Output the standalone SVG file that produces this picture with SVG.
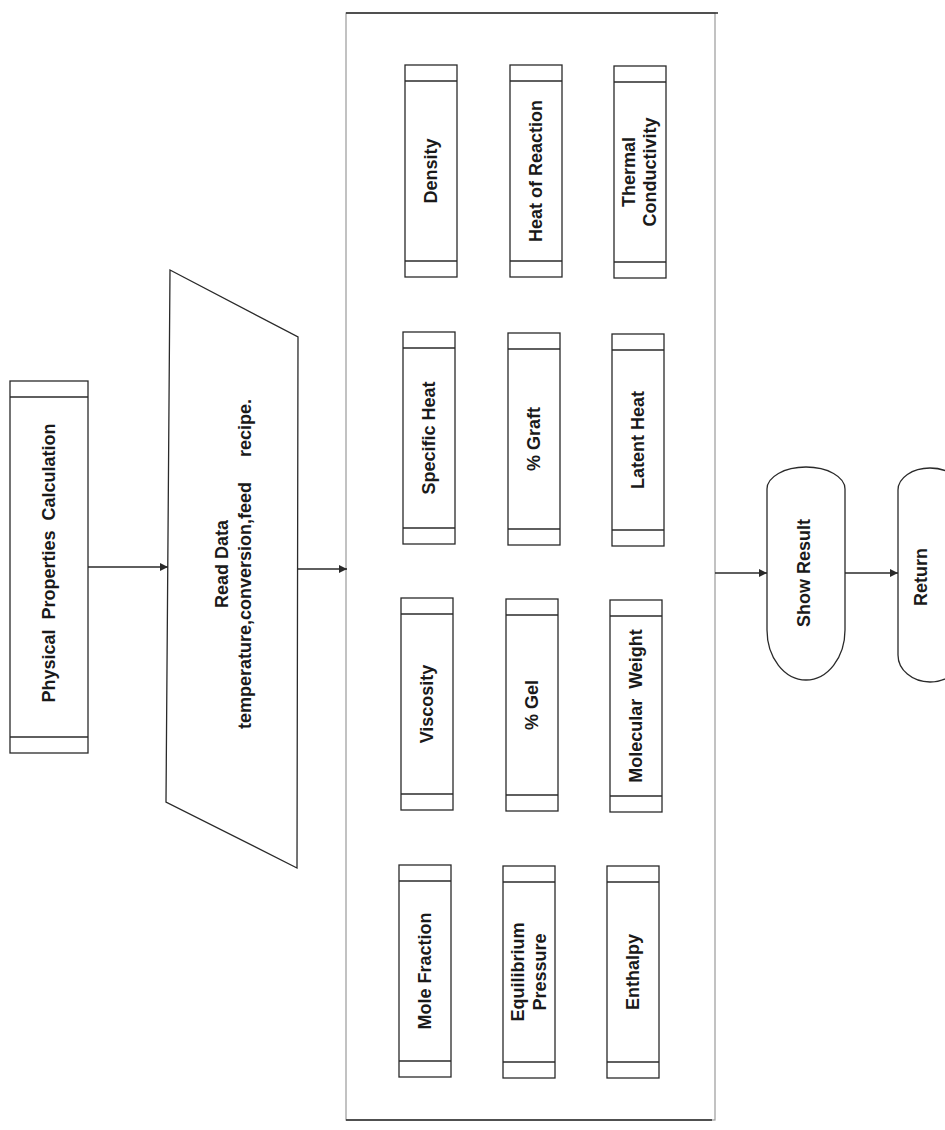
<svg xmlns="http://www.w3.org/2000/svg" width="945" height="1130" viewBox="0 0 945 1130">
<defs>
<style>
.ln{fill:none;stroke:#2a2a2a;stroke-width:1.3}
.sh{fill:#ffffff;stroke:#2a2a2a;stroke-width:1.3}
.cont{fill:#ffffff;stroke:#9a9a9a;stroke-width:1.2}
.edge{stroke:#2a2a2a;stroke-width:1.3;fill:none}
.t{font-family:"Liberation Sans",Arial,sans-serif;font-size:18px;font-weight:bold;fill:#1a1a1a;text-anchor:middle;dominant-baseline:central}
</style>
<marker id="ah" viewBox="0 0 10 10" refX="10" refY="5" markerWidth="11" markerHeight="8" markerUnits="userSpaceOnUse" orient="auto">
<path d="M0,0 L10,5 L0,10 Z" fill="#2a2a2a"/>
</marker>
</defs>
<rect x="0" y="0" width="945" height="1130" fill="#ffffff"/>

<g id="container">
<rect class="cont" x="346" y="13" width="369" height="1107"/>
<line x1="346" y1="13" x2="718" y2="13" stroke="#2a2a2a" stroke-width="1.6"/>
<line x1="346" y1="1120" x2="712" y2="1120" stroke="#2a2a2a" stroke-width="1.6"/>
</g>

<g id="physical-properties">
<rect class="sh" x="10" y="381" width="78" height="372"/>
<line class="ln" x1="10" y1="397" x2="88" y2="397"/>
<line class="ln" x1="10" y1="737" x2="88" y2="737"/>
<text class="t" x="49" y="563" transform="rotate(-90 49 563)" xml:space="preserve">Physical  Properties  Calculation</text>
</g>

<g id="read-data">
<polygon class="sh" points="170,270 298,337 297,868 166,802"/>
<text class="t" x="222" y="564" transform="rotate(-90 222 564)">Read Data</text>
<text class="t" x="245" y="564" transform="rotate(-90 245 564)" xml:space="preserve">temperature,conversion,feed     recipe.</text>
</g>

<g id="density">
<rect class="sh" x="405" y="65" width="52" height="212"/>
<line class="ln" x1="405" y1="81" x2="457" y2="81"/><line class="ln" x1="405" y1="261" x2="457" y2="261"/>
<text class="t" x="431" y="171" transform="rotate(-90 431 171)">Density</text>
</g>
<g id="heat-of-reaction">
<rect class="sh" x="510" y="65" width="52" height="212"/>
<line class="ln" x1="510" y1="81" x2="562" y2="81"/><line class="ln" x1="510" y1="261" x2="562" y2="261"/>
<text class="t" x="536" y="171" transform="rotate(-90 536 171)">Heat of Reaction</text>
</g>
<g id="thermal-conductivity">
<rect class="sh" x="614" y="66" width="52" height="212"/>
<line class="ln" x1="614" y1="82" x2="666" y2="82"/><line class="ln" x1="614" y1="262" x2="666" y2="262"/>
<text class="t" x="629" y="172" transform="rotate(-90 629 172)">Thermal</text>
<text class="t" x="650" y="172" transform="rotate(-90 650 172)">Conductivity</text>
</g>

<g id="specific-heat">
<rect class="sh" x="403" y="332" width="52" height="212"/>
<line class="ln" x1="403" y1="348" x2="455" y2="348"/><line class="ln" x1="403" y1="528" x2="455" y2="528"/>
<text class="t" x="429" y="438" transform="rotate(-90 429 438)">Specific Heat</text>
</g>
<g id="graft">
<rect class="sh" x="508" y="333" width="52" height="212"/>
<line class="ln" x1="508" y1="349" x2="560" y2="349"/><line class="ln" x1="508" y1="529" x2="560" y2="529"/>
<text class="t" x="534" y="439" transform="rotate(-90 534 439)">% Graft</text>
</g>
<g id="latent-heat">
<rect class="sh" x="612" y="334" width="52" height="212"/>
<line class="ln" x1="612" y1="350" x2="664" y2="350"/><line class="ln" x1="612" y1="530" x2="664" y2="530"/>
<text class="t" x="638" y="440" transform="rotate(-90 638 440)">Latent Heat</text>
</g>

<g id="viscosity">
<rect class="sh" x="401" y="598" width="52" height="212"/>
<line class="ln" x1="401" y1="614" x2="453" y2="614"/><line class="ln" x1="401" y1="794" x2="453" y2="794"/>
<text class="t" x="427" y="704" transform="rotate(-90 427 704)">Viscosity</text>
</g>
<g id="gel">
<rect class="sh" x="506" y="599" width="52" height="212"/>
<line class="ln" x1="506" y1="615" x2="558" y2="615"/><line class="ln" x1="506" y1="795" x2="558" y2="795"/>
<text class="t" x="532" y="705" transform="rotate(-90 532 705)">% Gel</text>
</g>
<g id="molecular-weight">
<rect class="sh" x="610" y="600" width="52" height="212"/>
<line class="ln" x1="610" y1="616" x2="662" y2="616"/><line class="ln" x1="610" y1="796" x2="662" y2="796"/>
<text class="t" x="636" y="706" transform="rotate(-90 636 706)" xml:space="preserve">Molecular  Weight</text>
</g>

<g id="mole-fraction">
<rect class="sh" x="399" y="865" width="52" height="212"/>
<line class="ln" x1="399" y1="881" x2="451" y2="881"/><line class="ln" x1="399" y1="1061" x2="451" y2="1061"/>
<text class="t" x="425" y="971" transform="rotate(-90 425 971)">Mole Fraction</text>
</g>
<g id="equilibrium-pressure">
<rect class="sh" x="503" y="866" width="52" height="212"/>
<line class="ln" x1="503" y1="882" x2="555" y2="882"/><line class="ln" x1="503" y1="1062" x2="555" y2="1062"/>
<text class="t" x="518" y="972" transform="rotate(-90 518 972)">Equilibrium</text>
<text class="t" x="540" y="972" transform="rotate(-90 540 972)">Pressure</text>
</g>
<g id="enthalpy">
<rect class="sh" x="607" y="866" width="52" height="212"/>
<line class="ln" x1="607" y1="882" x2="659" y2="882"/><line class="ln" x1="607" y1="1062" x2="659" y2="1062"/>
<text class="t" x="633" y="972" transform="rotate(-90 633 972)">Enthalpy</text>
</g>

<g id="show-result">
<path class="sh" d="M767,489 A39,22 0 0 1 845,489 L845,630 A39,50 0 0 1 767,630 Z"/>
<text class="t" x="804" y="573" transform="rotate(-90 804 573)">Show Result</text>
</g>

<g id="return">
<path class="sh" d="M898,490 A32,22 0 0 1 930,468 A32,22 0 0 1 962,490 L962,655 A32,27 0 0 1 930,682 A32,27 0 0 1 898,655 Z"/>
<text class="t" x="921" y="577" transform="rotate(-90 921 577)">Return</text>
</g>

<g id="connectors">
<line class="edge" x1="88" y1="567" x2="168" y2="567" marker-end="url(#ah)"/>
<line class="edge" x1="297" y1="569" x2="347" y2="569" marker-end="url(#ah)"/>
<line class="edge" x1="715" y1="573" x2="767" y2="573" marker-end="url(#ah)"/>
<line class="edge" x1="845" y1="573" x2="898" y2="573" marker-end="url(#ah)"/>
</g>
</svg>
